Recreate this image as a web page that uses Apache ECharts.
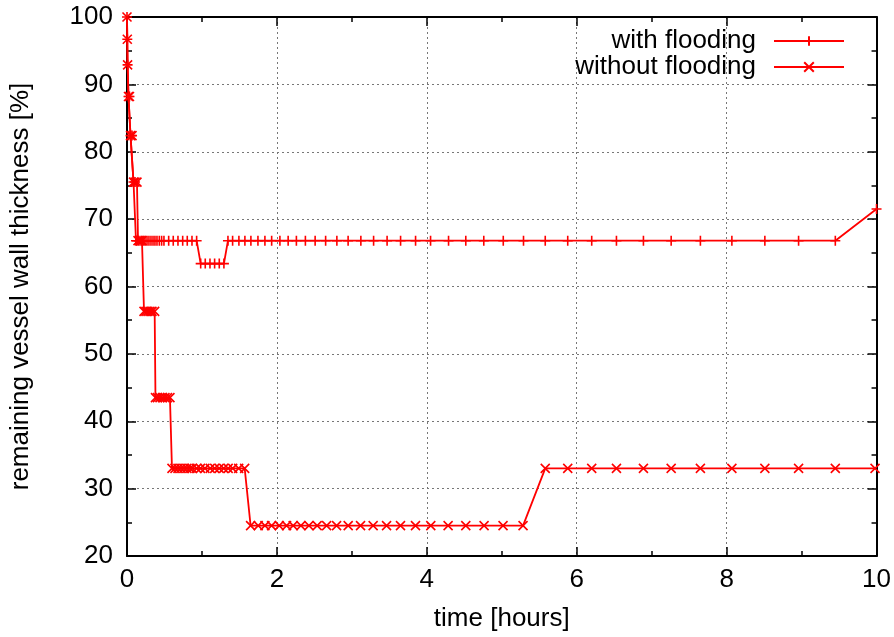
<!DOCTYPE html>
<html>
<head>
<meta charset="utf-8">
<script src="https://cdn.jsdelivr.net/npm/echarts@6/dist/echarts.min.js"></script>
<style>html,body{margin:0;padding:0;background:#fff}#c{width:894px;height:637px}</style>
</head>
<body>
<div id="c"></div>
<script>
// with flooding
var withTime = [0, 0.004, 0.008, 0.02, 0.033, 0.047, 0.067, 0.087, 0.107, 0.12,
  0.133, 0.16, 0.187, 0.213, 0.24, 0.267, 0.293, 0.32, 0.347, 0.373, 0.4, 0.431, 0.462,
  0.493, 0.556, 0.617, 0.68, 0.743, 0.804, 0.867, 0.929,
  0.983, 1.044, 1.107, 1.169, 1.231, 1.293,
  1.347, 1.409, 1.493, 1.573, 1.653, 1.747, 1.84, 1.93, 2.04, 2.15, 2.26, 2.38, 2.51, 2.65,
  2.80, 2.95, 3.12, 3.29, 3.47, 3.65, 3.85, 4.05, 4.29, 4.52, 4.76, 5.02, 5.29, 5.58, 5.88,
  6.20, 6.53, 6.89, 7.26, 7.65, 8.07, 8.51, 8.96, 9.45, 10.0];
var withValue = [100, 96.7, 92.9, 88.2, 88.2, 82.4, 82.4, 75.5, 75.5, 66.8,
  66.8, 66.8, 66.8, 66.8, 66.8, 66.8, 66.8, 66.8, 66.8, 66.8, 66.8, 66.8, 66.8,
  66.8, 66.8, 66.8, 66.8, 66.8, 66.8, 66.8, 66.8,
  63.4, 63.4, 63.4, 63.4, 63.4, 63.4,
  66.8, 66.8, 66.8, 66.8, 66.8, 66.8, 66.8, 66.8, 66.8, 66.8, 66.8, 66.8, 66.8, 66.8,
  66.8, 66.8, 66.8, 66.8, 66.8, 66.8, 66.8, 66.8, 66.8, 66.8, 66.8, 66.8, 66.8, 66.8, 66.8,
  66.8, 66.8, 66.8, 66.8, 66.8, 66.8, 66.8, 66.8, 66.8, 71.5];

// without flooding
var withoutTime = [0, 0.004, 0.008, 0.02, 0.033, 0.047, 0.067, 0.087, 0.107, 0.133,
  0.147, 0.173, 0.2, 0.227, 0.253, 0.28, 0.307, 0.333, 0.369,
  0.38, 0.407, 0.44, 0.473, 0.507, 0.54, 0.573,
  0.6, 0.64, 0.68, 0.72, 0.76, 0.80, 0.84, 0.87, 0.93, 0.98, 1.04, 1.11, 1.17, 1.23, 1.29,
  1.35, 1.41, 1.49, 1.57,
  1.649, 1.751, 1.84, 1.929, 2.031, 2.129, 2.217, 2.32, 2.427, 2.537, 2.663, 2.796, 2.951,
  3.116, 3.284, 3.463, 3.649, 3.849, 4.053, 4.284, 4.52, 4.764, 5.017, 5.284,
  5.58, 5.88, 6.20, 6.53, 6.89, 7.26, 7.65, 8.07, 8.51, 8.96, 9.45, 9.98];
var withoutValue = [100, 96.7, 92.9, 88.2, 88.2, 82.4, 82.4, 75.5, 75.5, 75.5,
  66.8, 66.8, 66.8, 56.3, 56.3, 56.3, 56.3, 56.3, 56.3,
  43.5, 43.5, 43.5, 43.5, 43.5, 43.5, 43.5,
  33.0, 33.0, 33.0, 33.0, 33.0, 33.0, 33.0, 33.0, 33.0, 33.0, 33.0, 33.0, 33.0, 33.0, 33.0,
  33.0, 33.0, 33.0, 33.0,
  24.5, 24.5, 24.5, 24.5, 24.5, 24.5, 24.5, 24.5, 24.5, 24.5, 24.5, 24.5, 24.5,
  24.5, 24.5, 24.5, 24.5, 24.5, 24.5, 24.5, 24.5, 24.5, 24.5, 24.5,
  33.0, 33.0, 33.0, 33.0, 33.0, 33.0, 33.0, 33.0, 33.0, 33.0, 33.0, 33.0];

var seriesNames = ['with flooding', 'without flooding'];
var xTitle = 'time [hours]';
var yTitle = 'remaining vessel wall thickness [%]';

function pairs(t, v) { return t.map(function (x, i) { return [x, v[i]]; }); }

var FONT = 'Liberation Sans';
var FS = 26;
var RED = '#ff0000';
var plusPath = 'path://M0,-5L0,5M-5,0L5,0';
var crossPath = 'path://M-5,-5L5,5M-5,5L5,-5';

var gridLine = { show: true, lineStyle: { color: '#777', type: [2, 3], width: 1 } };
var tickIn = { show: true, inside: true, length: 9, lineStyle: { color: '#000', width: 1.5 } };
var minorIn = { show: true, splitNumber: 2, length: 5, lineStyle: { color: '#000', width: 1.5 } };
var axisLineBlack = { show: true, onZero: false, lineStyle: { color: '#000', width: 2 } };

var chart = echarts.init(document.getElementById('c'), null, { renderer: 'canvas' });
chart.setOption({
  animation: false,
  backgroundColor: '#fff',
  textStyle: { fontFamily: FONT },
  grid: { left: 127, right: 17, top: 17, bottom: 80 },
  legend: {
    orient: 'vertical', align: 'right', right: 49, top: 28, padding: 0,
    itemWidth: 70, itemHeight: 12, itemGap: 0,
    textStyle: { fontFamily: FONT, fontSize: FS, color: '#000', lineHeight: 24, padding: [0, 13, 0, 0] },
    data: seriesNames
  },
  xAxis: [{
    type: 'value', min: 0, max: 10, interval: 2, position: 'bottom',
    name: xTitle, nameLocation: 'middle', nameGap: 50,
    nameTextStyle: { fontFamily: FONT, fontSize: FS, color: '#000' },
    axisLine: axisLineBlack, axisTick: tickIn, minorTick: minorIn,
    axisLabel: { fontFamily: FONT, fontSize: FS, color: '#000', margin: 11 },
    splitLine: gridLine
  }, {
    type: 'value', min: 0, max: 10, interval: 2, position: 'top',
    axisLine: axisLineBlack, axisTick: tickIn, minorTick: minorIn,
    axisLabel: { show: false }, splitLine: { show: false }
  }],
  yAxis: [{
    type: 'value', min: 20, max: 100, interval: 10, position: 'left',
    name: yTitle, nameLocation: 'middle', nameGap: 93,
    nameTextStyle: { fontFamily: FONT, fontSize: FS, color: '#000' },
    axisLine: axisLineBlack, axisTick: tickIn, minorTick: minorIn,
    axisLabel: { fontFamily: FONT, fontSize: FS, color: '#000', margin: 14 },
    splitLine: gridLine
  }, {
    type: 'value', min: 20, max: 100, interval: 10, position: 'right',
    axisLine: axisLineBlack, axisTick: tickIn, minorTick: minorIn,
    axisLabel: { show: false }, splitLine: { show: false }
  }],
  series: [{
    name: seriesNames[0], type: 'line', xAxisIndex: 0, yAxisIndex: 0,
    data: pairs(withTime, withValue),
    symbol: plusPath, symbolSize: 10, showAllSymbol: true,
    lineStyle: { color: RED, width: 1.8 },
    itemStyle: { color: RED, borderColor: RED, borderWidth: 1.6 }
  }, {
    name: seriesNames[1], type: 'line', xAxisIndex: 0, yAxisIndex: 0,
    data: pairs(withoutTime, withoutValue),
    symbol: crossPath, symbolSize: 9, showAllSymbol: true,
    lineStyle: { color: RED, width: 1.8 },
    itemStyle: { color: RED, borderColor: RED, borderWidth: 1.6 }
  }]
});
</script>
</body>
</html>
